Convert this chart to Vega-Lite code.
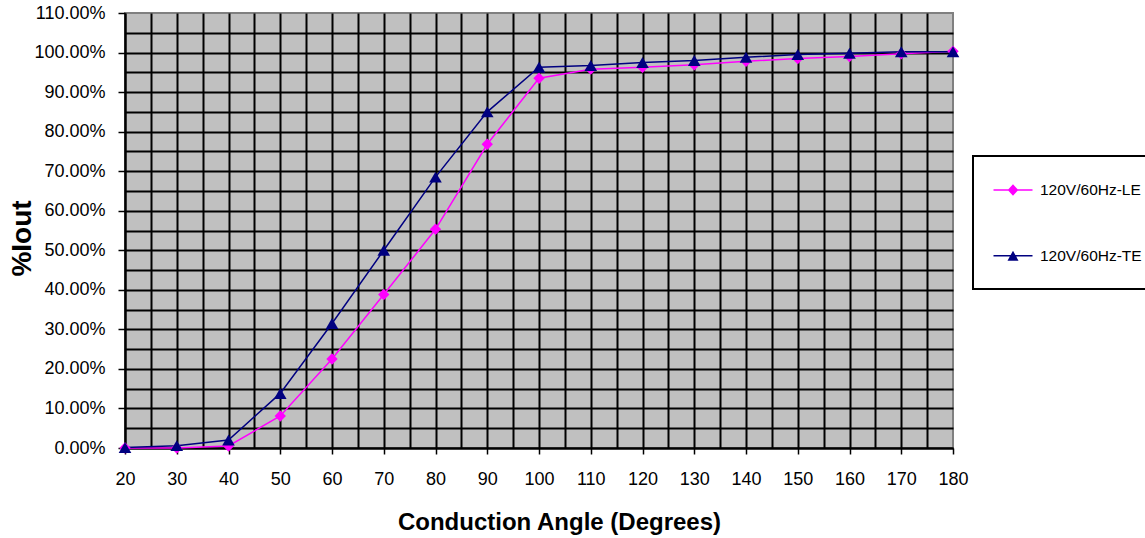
{
  "$schema": "https://vega.github.io/schema/vega-lite/v6.json",
  "width": 828,
  "height": 435,
  "autosize": {"type": "none"},
  "padding": {"left": 125, "top": 13, "right": 192, "bottom": 90},
  "background": "white",
  "config": {
    "font": "Liberation Sans",
    "view": {"fill": "#c0c0c0", "stroke": "#808080", "strokeWidth": 2}
  },
  "data": {
    "values": [
      {"angle": 20, "series": "120V/60Hz-LE", "pct": 0.0},
      {"angle": 30, "series": "120V/60Hz-LE", "pct": 0.0},
      {"angle": 40, "series": "120V/60Hz-LE", "pct": 0.005},
      {"angle": 50, "series": "120V/60Hz-LE", "pct": 0.081},
      {"angle": 60, "series": "120V/60Hz-LE", "pct": 0.225},
      {"angle": 70, "series": "120V/60Hz-LE", "pct": 0.388},
      {"angle": 80, "series": "120V/60Hz-LE", "pct": 0.553},
      {"angle": 90, "series": "120V/60Hz-LE", "pct": 0.768},
      {"angle": 100, "series": "120V/60Hz-LE", "pct": 0.935},
      {"angle": 110, "series": "120V/60Hz-LE", "pct": 0.958},
      {"angle": 120, "series": "120V/60Hz-LE", "pct": 0.963},
      {"angle": 130, "series": "120V/60Hz-LE", "pct": 0.969},
      {"angle": 140, "series": "120V/60Hz-LE", "pct": 0.978},
      {"angle": 150, "series": "120V/60Hz-LE", "pct": 0.985},
      {"angle": 160, "series": "120V/60Hz-LE", "pct": 0.99},
      {"angle": 170, "series": "120V/60Hz-LE", "pct": 0.997},
      {"angle": 180, "series": "120V/60Hz-LE", "pct": 1.003},
      {"angle": 20, "series": "120V/60Hz-TE", "pct": 0.001},
      {"angle": 30, "series": "120V/60Hz-TE", "pct": 0.006},
      {"angle": 40, "series": "120V/60Hz-TE", "pct": 0.02},
      {"angle": 50, "series": "120V/60Hz-TE", "pct": 0.138},
      {"angle": 60, "series": "120V/60Hz-TE", "pct": 0.315},
      {"angle": 70, "series": "120V/60Hz-TE", "pct": 0.5},
      {"angle": 80, "series": "120V/60Hz-TE", "pct": 0.685},
      {"angle": 90, "series": "120V/60Hz-TE", "pct": 0.85},
      {"angle": 100, "series": "120V/60Hz-TE", "pct": 0.963},
      {"angle": 110, "series": "120V/60Hz-TE", "pct": 0.967},
      {"angle": 120, "series": "120V/60Hz-TE", "pct": 0.975},
      {"angle": 130, "series": "120V/60Hz-TE", "pct": 0.98},
      {"angle": 140, "series": "120V/60Hz-TE", "pct": 0.988},
      {"angle": 150, "series": "120V/60Hz-TE", "pct": 0.995},
      {"angle": 160, "series": "120V/60Hz-TE", "pct": 0.998},
      {"angle": 170, "series": "120V/60Hz-TE", "pct": 1.002},
      {"angle": 180, "series": "120V/60Hz-TE", "pct": 1.002}
    ]
  },
  "encoding": {
    "x": {
      "field": "angle",
      "type": "quantitative",
      "scale": {"domain": [20, 180], "nice": false, "zero": false},
      "axis": {
        "title": "Conduction Angle (Degrees)",
        "values": [20,25,30,35,40,45,50,55,60,65,70,75,80,85,90,95,100,105,110,115,120,125,130,135,140,145,150,155,160,165,170,175,180],
        "labelExpr": "datum.value % 10 === 0 ? datum.label : ''",
        "labelOverlap": false,
        "labelBound": false,
        "labelFlush": false,
        "labelFont": "Liberation Sans",
        "labelFontSize": 18,
        "labelColor": "black",
        "labelPadding": 16,
        "grid": true,
        "gridColor": "black",
        "gridWidth": 2,
        "gridOpacity": {"condition": {"test": "datum.value === 180", "value": 0}, "value": 1},
        "tickSize": 6,
        "tickWidth": 1.5,
        "tickColor": "black",
        "tickOpacity": {"condition": {"test": "datum.value % 10 === 0", "value": 1}, "value": 0},
        "domainColor": "black",
        "domainWidth": 2,
        "titleFont": "Liberation Sans",
        "titleFontSize": 24,
        "titleFontWeight": "bold",
        "titleColor": "black",
        "titleX": 434,
        "titleY": 81,
        "titleAlign": "center",
        "titleBaseline": "alphabetic"
      }
    },
    "y": {
      "field": "pct",
      "type": "quantitative",
      "scale": {"domain": [0, 1.1], "nice": false, "zero": true},
      "axis": {
        "title": "%Iout",
        "format": ".2%",
        "values": [0,0.05,0.1,0.15,0.2,0.25,0.3,0.35,0.4,0.45,0.5,0.55,0.6,0.65,0.7,0.75,0.8,0.85,0.9,0.95,1.0,1.05,1.1],
        "labelExpr": "round(datum.value*100) % 10 === 0 ? datum.label : ''",
        "labelOverlap": false,
        "labelBound": false,
        "labelFlush": false,
        "labelFont": "Liberation Sans",
        "labelFontSize": 18,
        "labelColor": "black",
        "labelPadding": 13,
        "grid": true,
        "gridColor": "black",
        "gridWidth": 2,
        "gridOpacity": {"condition": {"test": "round(datum.value*100) === 110", "value": 0}, "value": 1},
        "tickSize": 7,
        "tickWidth": 1.5,
        "tickColor": "black",
        "tickOpacity": {"condition": {"test": "round(datum.value*100) % 10 === 0", "value": 1}, "value": 0},
        "domainColor": "black",
        "domainWidth": 2,
        "titleFont": "Liberation Sans",
        "titleFontSize": 28,
        "titleFontWeight": "bold",
        "titleColor": "black",
        "titleAngle": 270,
        "titleX": -103,
        "titleY": 225,
        "titleAlign": "center",
        "titleBaseline": "middle"
      }
    },
    "color": {
      "field": "series",
      "type": "nominal",
      "scale": {"domain": ["120V/60Hz-LE", "120V/60Hz-TE"], "range": ["#ff00ff", "#000080"]},
      "legend": {
        "title": null,
        "orient": "none",
        "legendX": 848,
        "legendY": 143,
        "padding": 24,
        "strokeColor": "black",
        "fillColor": "white",
        "symbolSize": 400,
        "symbolOffset": 6,
        "labelOffset": 17,
        "rowPadding": 46.7,
        "labelFont": "Liberation Sans",
        "labelFontSize": 15.5,
        "labelColor": "black",
        "labelLimit": 300,
        "encode": {
          "legend": {"update": {"strokeWidth": {"value": 2}}},
          "symbols": {
            "update": {
              "shape": {"signal": "datum.value === '120V/60Hz-LE' ? 'M-1.95,-0.075L1.95,-0.075L1.95,0.075L-1.95,0.075ZM0,-0.58L0.53,0L0,0.58L-0.53,0Z' : 'M-1.95,-0.075L1.95,-0.075L1.95,0.075L-1.95,0.075ZM0,-0.5L0.55,0.5L-0.55,0.5Z'"},
              "size": {"value": 400},
              "fill": {"signal": "datum.value === '120V/60Hz-LE' ? '#ff00ff' : '#000080'"},
              "fillOpacity": {"value": 1},
              "opacity": {"value": 1},
              "strokeWidth": {"value": 0}
            }
          }
        }
      }
    }
  },
  "layer": [
    {
      "mark": {"type": "line", "strokeWidth": 1.5}
    },
    {
      "transform": [{"filter": "datum.series === '120V/60Hz-LE'"}],
      "mark": {"type": "point", "filled": true, "opacity": 1, "shape": "diamond", "size": 130}
    },
    {
      "transform": [{"filter": "datum.series === '120V/60Hz-TE'"}],
      "mark": {"type": "point", "filled": true, "opacity": 1, "shape": "triangle-up", "size": 160}
    }
  ]
}
